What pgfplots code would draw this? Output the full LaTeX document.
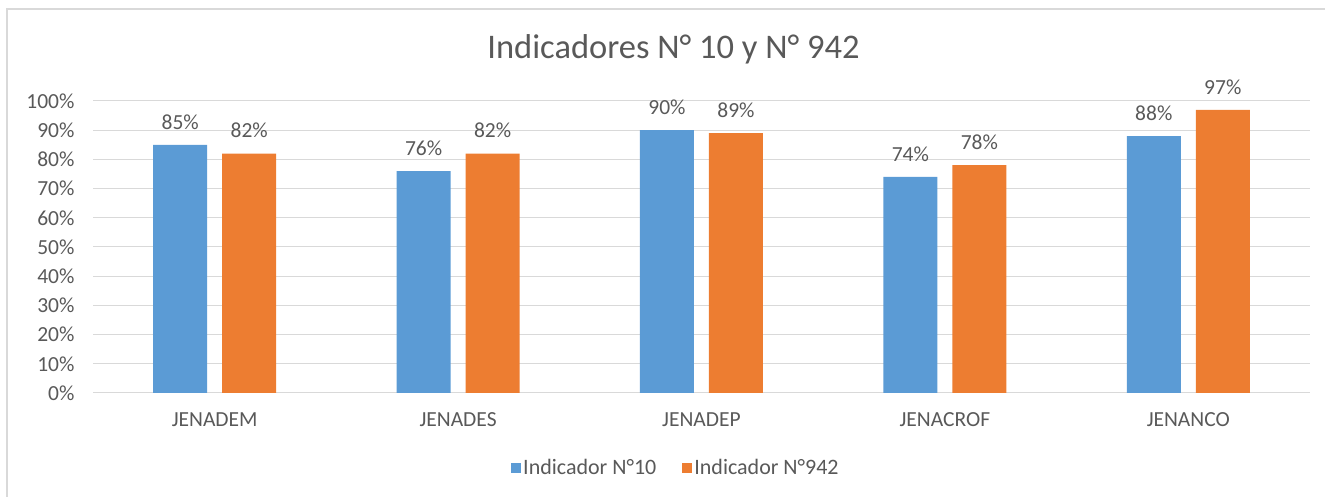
\documentclass[border=0pt]{standalone}
\usepackage{pgfplots}
\pgfplotsset{compat=1.18}
\usepackage{fontspec}
\setmainfont{Carlito}
\definecolor{cblue}{HTML}{5B9BD5}
\definecolor{corange}{HTML}{ED7D31}
\definecolor{cgrid}{HTML}{D9D9D9}
\definecolor{ctext}{HTML}{595959}
\begin{document}
\begin{tikzpicture}[x=1pt,y=1pt]
\path[use as bounding box] (0,0) rectangle (1325,497);
\draw[cgrid, line width=1.5pt] (7,0) -- (7,488) -- (1325,488);
\begin{axis}[
  at={(93pt,104pt)}, anchor=south west,
  scale only axis, width=1217pt, height=292pt,
  xmin=-0.5, xmax=4.5, ymin=0, ymax=100,
  xtick={0,1,2,3,4},
  xticklabels={JENADEM,JENADES,JENADEP,JENACROF,JENANCO},
  ytick={0,10,...,100},
  yticklabel={\pgfmathprintnumber{\tick}\%},
  /pgf/number format/assume math mode=true,
  ymajorgrids, major grid style={cgrid, line width=1pt},
  axis line style={draw=none},
  major tick length=0pt,
  tick label style={font=\fontsize{21.5}{25}\selectfont, text=ctext},
  yticklabel style={xshift=-15pt},
  xticklabel style={yshift=-16pt},
  title={Indicadores N° 10 y N° 942},
  title style={font=\fontsize{34.5}{40}\selectfont, text=ctext, at={(0.477,1.155)}, anchor=center},
  ybar, bar width=54pt,
  nodes near coords={\pgfmathprintnumber{\pgfplotspointmeta}\%},
  nodes near coords style={font=\fontsize{21.5}{25}\selectfont, text=ctext, /pgf/number format/assume math mode=true, yshift=12pt},
  legend columns=2,
  legend style={at={(0.479,-0.257)}, anchor=center, draw=none, font=\fontsize{22}{25}\selectfont, text=ctext,
    /tikz/every even column/.append style={column sep=24pt}},
  legend image code/.code={\fill[#1] (-4pt,-5pt) rectangle (6pt,5pt);},
]
\addplot[fill=cblue, draw=none, bar shift=-34.5pt] coordinates {(0,85) (1,76) (2,90) (3,74) (4,88)};
\addplot[fill=corange, draw=none, bar shift=34.5pt] coordinates {(0,82) (1,82) (2,89) (3,78) (4,97)};
\legend{Indicador N°10, Indicador N°942}
\end{axis}
\end{tikzpicture}
\end{document}
